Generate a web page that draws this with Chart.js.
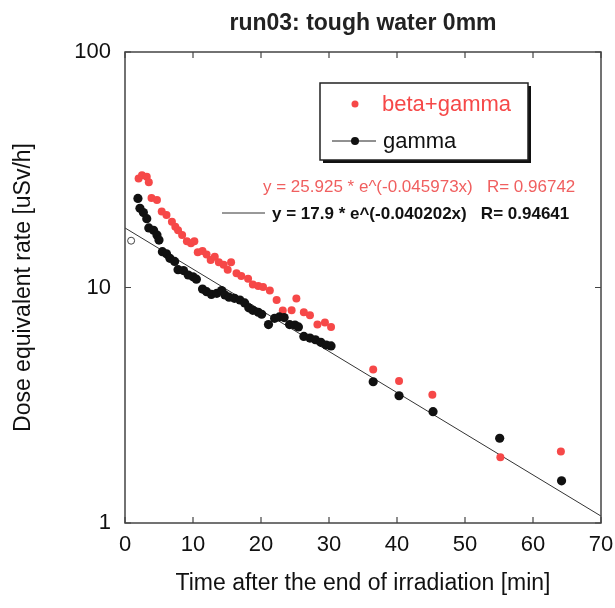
<!DOCTYPE html>
<html>
<head>
<meta charset="utf-8">
<script src="https://cdn.jsdelivr.net/npm/chart.js@4"></script>
<style>
  body { margin: 0; background: #fff; }
  #wrap { width: 615px; height: 608px; }
</style>
</head>
<body>
<div id="wrap"><canvas id="myChart" width="615" height="608"></canvas></div>
<script>
// data
const gammaTime = [1.9, 2.2, 2.7, 3.2, 3.5, 4.2, 4.7, 5.0, 5.5, 6.1, 6.6, 7.3, 7.8, 8.6, 9.3, 10.0, 10.5, 11.4, 12.0, 12.7, 13.5, 14.2, 14.7, 15.3, 16.1, 16.9, 17.6, 18.2, 18.8, 19.6, 20.1, 21.1, 22.0, 22.7, 23.4, 24.2, 25.0, 25.5, 26.3, 27.2, 28.0, 28.8, 29.6, 30.3, 36.5, 40.3, 45.3, 55.1, 64.2];
const gammaRate = [23.9, 21.7, 20.8, 19.6, 17.9, 17.5, 16.7, 15.9, 14.2, 13.9, 13.3, 12.9, 11.9, 11.8, 11.3, 11.1, 10.85, 9.85, 9.6, 9.35, 9.45, 9.7, 9.3, 9.1, 9.0, 8.85, 8.6, 8.2, 8.0, 7.85, 7.7, 6.96, 7.4, 7.5, 7.45, 6.96, 6.93, 6.8, 6.2, 6.1, 6.0, 5.85, 5.7, 5.65, 3.98, 3.47, 2.97, 2.29, 1.51];

const betaTime = [2.0, 2.5, 3.2, 3.5, 3.9, 4.7, 5.4, 6.1, 6.9, 7.4, 7.8, 8.4, 9.1, 9.7, 10.2, 10.7, 11.4, 12.0, 12.6, 13.2, 13.8, 14.5, 15.1, 15.6, 16.4, 17.1, 18.1, 18.8, 19.6, 20.3, 21.3, 22.3, 23.2, 24.5, 25.2, 26.3, 27.2, 28.3, 29.4, 30.3, 36.5, 40.3, 45.2, 55.2, 64.1];
const betaRate = [29.0, 30.0, 29.5, 28.0, 24.0, 23.5, 21.0, 20.3, 19.0, 18.1, 17.5, 16.7, 15.7, 15.4, 15.7, 14.1, 14.3, 13.8, 13.1, 13.5, 12.8, 12.5, 11.9, 12.8, 11.5, 11.2, 10.9, 10.3, 10.15, 10.05, 9.7, 8.85, 7.98, 8.0, 8.98, 7.85, 7.63, 6.96, 7.1, 6.8, 4.49, 4.01, 3.5, 1.9, 2.01];

const openTime = [0.9];
const openRate = [15.8];

// fit line y = 17.9 * e^(-0.040202x), end points
const fitTime = [0, 70];
const fitRate = [17.9, 1.07];

const xTicks = [0, 10, 20, 30, 40, 50, 60, 70];
const yTicks = [1, 10, 100];

const betaFit = 'y = 25.925 * e^(-0.045973x)   R= 0.96742';
const gammaFit = 'y = 17.9 * e^(-0.040202x)   R= 0.94641';

const FONT = '"Liberation Sans", Arial, sans-serif';
const RED = 'rgb(246,72,72)';
const BLACK = '#111';

function toPoints(xs, ys) {
  return xs.map((x, i) => ({ x: x, y: ys[i] }));
}

// frame, inward ticks, legend box and fit equations
const decorations = {
  id: 'decorations',
  afterDraw(chart) {
    const ctx = chart.ctx;
    const a = chart.chartArea;
    const xs = chart.scales.x, ys = chart.scales.y;
    ctx.save();
    ctx.strokeStyle = '#444';
    ctx.lineWidth = 1.5;
    ctx.strokeRect(a.left, a.top, a.right - a.left, a.bottom - a.top);
    ctx.lineWidth = 1.2;
    ctx.beginPath();
    xTicks.forEach(v => {
      const px = xs.getPixelForValue(v);
      ctx.moveTo(px, a.bottom); ctx.lineTo(px, a.bottom - 6);
      ctx.moveTo(px, a.top); ctx.lineTo(px, a.top + 6);
    });
    yTicks.forEach(v => {
      const py = ys.getPixelForValue(v);
      ctx.moveTo(a.left, py); ctx.lineTo(a.left + 6, py);
      ctx.moveTo(a.right, py); ctx.lineTo(a.right - 6, py);
    });
    ctx.stroke();

    // legend box with shadow
    const bx = 320, by = 83, bw = 208, bh = 77;
    ctx.fillStyle = '#111';
    ctx.fillRect(bx + 3, by + 3, bw, bh);
    ctx.fillStyle = '#fff';
    ctx.fillRect(bx, by, bw, bh);
    ctx.strokeStyle = '#222';
    ctx.lineWidth = 1.5;
    ctx.strokeRect(bx, by, bw, bh);

    const ds = chart.data.datasets;
    ctx.font = '22px ' + FONT;
    ctx.textBaseline = 'middle';
    ctx.textAlign = 'left';
    // beta+gamma
    ctx.fillStyle = ds[0].backgroundColor;
    ctx.beginPath(); ctx.arc(355, 104, 3.5, 0, Math.PI * 2); ctx.fill();
    ctx.fillText(ds[0].label, 382, 105);
    // gamma
    ctx.strokeStyle = '#222';
    ctx.lineWidth = 1;
    ctx.beginPath(); ctx.moveTo(332, 141); ctx.lineTo(376, 141); ctx.stroke();
    ctx.fillStyle = ds[1].backgroundColor;
    ctx.beginPath(); ctx.arc(355, 141, 4, 0, Math.PI * 2); ctx.fill();
    ctx.fillText(ds[1].label, 383, 142);

    // fit equations
    ctx.font = '17px ' + FONT;
    ctx.fillStyle = 'rgb(240,95,95)';
    ctx.fillText(betaFit, 263, 187);
    ctx.strokeStyle = '#333';
    ctx.beginPath(); ctx.moveTo(222, 213); ctx.lineTo(265, 213); ctx.stroke();
    ctx.font = 'bold 17px ' + FONT;
    ctx.fillStyle = BLACK;
    ctx.fillText(gammaFit, 272, 214);
    ctx.restore();
  }
};

const ctx = document.getElementById('myChart').getContext('2d');

const myChart = new Chart(ctx, {
  type: 'scatter',
  data: {
    datasets: [
      {
        label: 'beta+gamma',
        data: toPoints(betaTime, betaRate),
        backgroundColor: RED,
        borderColor: RED,
        borderWidth: 0,
        pointRadius: 4,
        order: 2
      },
      {
        label: 'gamma',
        data: toPoints(gammaTime, gammaRate),
        backgroundColor: BLACK,
        borderColor: BLACK,
        borderWidth: 0,
        pointRadius: 4.6,
        order: 1
      },
      {
        label: 'open',
        data: toPoints(openTime, openRate),
        backgroundColor: '#fff',
        borderColor: '#444',
        borderWidth: 1,
        pointRadius: 3.5,
        order: 1
      },
      {
        label: 'fit',
        type: 'line',
        data: toPoints(fitTime, fitRate),
        borderColor: '#333',
        borderWidth: 1,
        pointRadius: 0,
        fill: false,
        order: 3
      }
    ]
  },
  options: {
    responsive: false,
    animation: false,
    layout: { padding: { left: 0, right: 14, top: 0, bottom: 0 } },
    scales: {
      x: {
        type: 'linear',
        min: 0,
        max: 70,
        afterBuildTicks: s => { s.ticks = xTicks.map(v => ({ value: v })); },
        afterFit: s => { s.height = 85; s.paddingLeft = 0; s.paddingRight = 0; },
        grid: { display: false, drawTicks: false },
        border: { display: false },
        ticks: {
          color: BLACK,
          font: { family: FONT, size: 22 },
          padding: 9,
          maxRotation: 0,
          autoSkip: false
        },
        title: {
          display: true,
          text: 'Time after the end of irradiation [min]',
          color: BLACK,
          font: { family: FONT, size: 23 },
          padding: { top: 0, bottom: 11 }
        }
      },
      y: {
        type: 'logarithmic',
        min: 1,
        max: 100,
        afterBuildTicks: s => { s.ticks = yTicks.map(v => ({ value: v })); },
        afterFit: s => { s.width = 125; s.paddingTop = 0; s.paddingBottom = 0; },
        grid: { display: false, drawTicks: false },
        border: { display: false },
        ticks: {
          color: BLACK,
          font: { family: FONT, size: 22 },
          padding: 14,
          callback: v => String(v)
        },
        title: {
          display: true,
          text: 'Dose equivalent rate [uSv/h]',
          color: BLACK,
          font: { family: FONT, size: 23 },
          padding: { top: 10, bottom: 0 }
        }
      }
    },
    plugins: {
      legend: { display: false },
      tooltip: { enabled: false },
      title: {
        display: true,
        fullSize: false,
        text: 'run03: tough water 0mm',
        color: '#222',
        font: { family: FONT, size: 23, weight: 'bold' },
        padding: { top: 10, bottom: 14.4 }
      }
    }
  },
  plugins: [decorations]
});
</script>
</body>
</html>
